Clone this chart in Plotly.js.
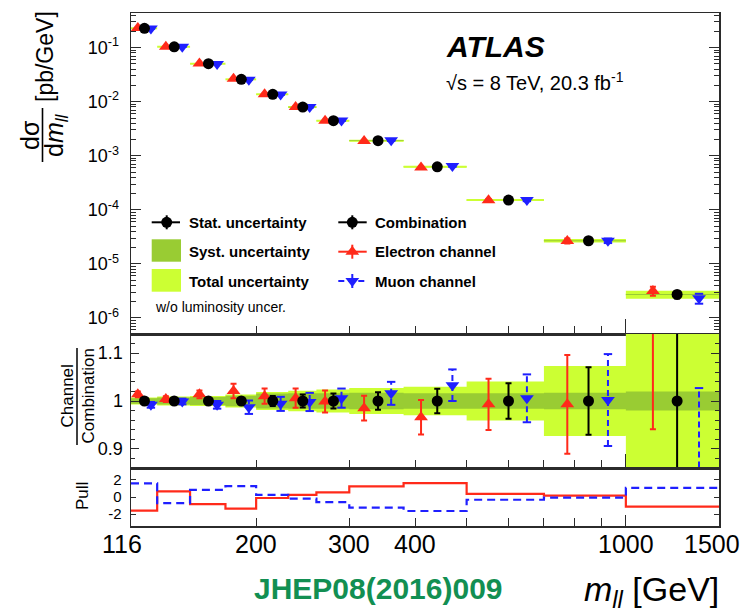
<!DOCTYPE html>
<html><head><meta charset="utf-8">
<script src="https://cdn.plot.ly/plotly-3.0.1.min.js"></script>
<style>html,body{margin:0;padding:0;background:#fff;}#chart{width:745px;height:613px;}</style>
</head><body><div id="chart"></div>
<script>
// ---------------- data ----------------
const binEdges = [116,130,150,175,200,230,260,300,380,500,700,1000,1500];
// combined differential cross section dσ/dm [pb/GeV]
const combXsec = [0.229, 0.104, 0.0506, 0.026, 0.0137, 0.00798, 0.00446, 0.0019, 6.25e-4, 1.51e-4, 2.67e-5, 2.71e-6];
// relative uncertainties of the combination
const combStat = [0.003, 0.0035, 0.0045, 0.006, 0.0105, 0.0136, 0.0157, 0.0185, 0.0255, 0.037, 0.0706, 0.16];
const combSyst = [0.006, 0.0075, 0.0085, 0.011, 0.0155, 0.016, 0.016, 0.017, 0.016, 0.016, 0.017, 0.020];
const combTot  = [0.0075, 0.0095, 0.0105, 0.0135, 0.019, 0.0215, 0.024, 0.027, 0.030, 0.0405, 0.073, 0.17];
// channel / combination ratios and their uncertainties
const elecRatio = [1.014, 1.004, 1.014, 1.021, 1.010, 1.006, 0.999, 0.985, 0.966, 0.993, 0.993, 1.16];
const elecErr   = [0.006, 0.006, 0.008, 0.015, 0.016, 0.020, 0.023, 0.026, 0.036, 0.0535, 0.103, 0.219];
const muonRatio = [0.992, 0.999, 0.992, 0.987, 0.994, 0.998, 1.006, 1.016, 1.033, 1.0056, 1.002, 0.85];
const muonErr   = [0.006, 0.006, 0.008, 0.014, 0.0147, 0.019, 0.020, 0.024, 0.033, 0.050, 0.096, 0.177];
// pulls
const elecPull = [-1.6, 0.67, -0.84, -1.37, -0.12, 0.24, 0.55, 1.25, 1.63, 0.36, 0.16, -1.13];
const muonPull = [1.6, -0.72, 0.84, 1.27, 0.25, -0.2, -0.6, -1.25, -1.64, -0.32, -0.08, 1.08];
// tick labels
const xTickVals = [116, 200, 300, 400, 1000, 1500];
const xTickText = ['116', '200', '300', '400', '1000', '1500'];
const xMajorVals = [1000];
const xMinorVals = [200, 300, 400, 500, 600, 700, 800, 900];
const yTopVals = [1e-6, 1e-5, 1e-4, 1e-3, 1e-2, 1e-1];
const yTopText = ['10<sup>-6</sup>','10<sup>-5</sup>','10<sup>-4</sup>','10<sup>-3</sup>','10<sup>-2</sup>','10<sup>-1</sup>'];
const yRatioVals = [0.9, 1.0, 1.1];
const yRatioText = ['0.9', '1', '1.1'];
const yPullVals = [-2, 0, 2];
const yPullText = ['-2', '0', '2'];

// ---------------- styling ----------------
const W = 745, H = 613;
const px = v => v / W, py = v => 1 - v / H;
const FONT = 'Liberation Sans, Arial, Helvetica, sans-serif';
const LIME = '#ccff33', DARK = '#99cc33', RED = '#ff2a1a', BLUE = '#1f1fff', FRAME = '#2b2b2b';
const MS = 11, TS = 12;

const n = combXsec.length;
const lo = binEdges.slice(0, n), hi = binEdges.slice(1);
const centers = lo.map((l, i) => (l + hi[i]) / 2);
const widths = lo.map((l, i) => hi[i] - l);
const xE = centers.map((c, i) => c - widths[i] / 4);
const xM = centers.map((c, i) => c + widths[i] / 4);
const ones = combXsec.map(() => 1);

function rects(scale, half) {
  const X = [], Y = [];
  for (let i = 0; i < n; i++) {
    const a = scale[i] * (1 - half[i]), b = scale[i] * (1 + half[i]);
    X.push(lo[i], hi[i], hi[i], lo[i], lo[i], null);
    Y.push(a, a, b, b, a, null);
  }
  return {X, Y};
}
function hsegs(vals) {
  const X = [], Y = [];
  for (let i = 0; i < n; i++) { X.push(lo[i], hi[i], null); Y.push(vals[i], vals[i], null); }
  return {X, Y};
}
function vsegs(xs, vals, errs) {
  const X = [], Y = [];
  for (let i = 0; i < n; i++) { X.push(xs[i], xs[i], null); Y.push(vals[i] - errs[i], vals[i] + errs[i], null); }
  return {X, Y};
}
function capsPts(xs, vals, errs) {
  const X = [], Y = [];
  for (let i = 0; i < n; i++) { X.push(xs[i], xs[i]); Y.push(vals[i] - errs[i], vals[i] + errs[i]); }
  return {X, Y};
}

const traces = [];
// ---------- top panel ----------
const elecX = combXsec.map((c, i) => c * elecRatio[i]);
const elecXErr = combXsec.map((c, i) => c * elecErr[i]);
const muonX = combXsec.map((c, i) => c * muonRatio[i]);
const muonXErr = combXsec.map((c, i) => c * muonErr[i]);
const combXErr = combXsec.map((c, i) => c * combStat[i]);

let s = hsegs(combXsec);
traces.push({x: s.X, y: s.Y, xaxis: 'x', yaxis: 'y', mode: 'lines', line: {color: LIME, width: 2}, hoverinfo: 'skip'});
let r = rects(combXsec, combTot);
traces.push({x: r.X, y: r.Y, xaxis: 'x', yaxis: 'y', mode: 'lines', fill: 'toself', fillcolor: LIME, line: {width: 0}, hoverinfo: 'skip'});
r = rects(combXsec, combSyst);
traces.push({x: r.X, y: r.Y, xaxis: 'x', yaxis: 'y', mode: 'lines', fill: 'toself', fillcolor: DARK, line: {width: 0}, hoverinfo: 'skip'});
traces.push({x: xE, y: elecX, xaxis: 'x', yaxis: 'y', mode: 'markers',
  marker: {symbol: 'triangle-up', size: TS, color: RED},
  error_y: {type: 'data', array: elecXErr, visible: true, color: RED, thickness: 2, width: 3}});
let v = vsegs(xM, muonX, muonXErr);
traces.push({x: v.X, y: v.Y, xaxis: 'x', yaxis: 'y', mode: 'lines', line: {color: BLUE, width: 2, dash: '6px,4px'}, hoverinfo: 'skip'});
let c = capsPts(xM, muonX, muonXErr);
traces.push({x: c.X, y: c.Y, xaxis: 'x', yaxis: 'y', mode: 'markers', marker: {symbol: 'line-ew', size: 6, color: BLUE, line: {color: BLUE, width: 2}}, hoverinfo: 'skip'});
traces.push({x: xM, y: muonX, xaxis: 'x', yaxis: 'y', mode: 'markers', marker: {symbol: 'triangle-down', size: TS, color: BLUE}});
traces.push({x: centers, y: combXsec, xaxis: 'x', yaxis: 'y', mode: 'markers',
  marker: {symbol: 'circle', size: MS, color: '#000'},
  error_y: {type: 'data', array: combXErr, visible: true, color: '#000', thickness: 2, width: 3}});

// ---------- ratio panel ----------
r = rects(ones, combTot);
traces.push({x: r.X, y: r.Y, xaxis: 'x2', yaxis: 'y2', mode: 'lines', fill: 'toself', fillcolor: LIME, line: {width: 0}, hoverinfo: 'skip'});
r = rects(ones, combSyst);
traces.push({x: r.X, y: r.Y, xaxis: 'x2', yaxis: 'y2', mode: 'lines', fill: 'toself', fillcolor: DARK, line: {width: 0}, hoverinfo: 'skip'});
traces.push({x: xE, y: elecRatio, xaxis: 'x2', yaxis: 'y2', mode: 'markers',
  marker: {symbol: 'triangle-up', size: TS, color: RED},
  error_y: {type: 'data', array: elecErr, visible: true, color: RED, thickness: 2, width: 3}});
v = vsegs(xM, muonRatio, muonErr);
traces.push({x: v.X, y: v.Y, xaxis: 'x2', yaxis: 'y2', mode: 'lines', line: {color: BLUE, width: 2, dash: '6px,4px'}, hoverinfo: 'skip'});
c = capsPts(xM, muonRatio, muonErr);
traces.push({x: c.X, y: c.Y, xaxis: 'x2', yaxis: 'y2', mode: 'markers', marker: {symbol: 'line-ew', size: 6, color: BLUE, line: {color: BLUE, width: 2}}, hoverinfo: 'skip'});
traces.push({x: xM, y: muonRatio, xaxis: 'x2', yaxis: 'y2', mode: 'markers', marker: {symbol: 'triangle-down', size: TS, color: BLUE}});
traces.push({x: centers, y: ones, xaxis: 'x2', yaxis: 'y2', mode: 'markers',
  marker: {symbol: 'circle', size: MS, color: '#000'},
  error_y: {type: 'data', array: combStat, visible: true, color: '#000', thickness: 2, width: 3}});

// ---------- pull panel ----------
traces.push({x: binEdges, y: elecPull.concat([elecPull[n - 1]]), xaxis: 'x3', yaxis: 'y3', mode: 'lines',
  line: {shape: 'hv', color: RED, width: 2.2}});
traces.push({x: binEdges, y: muonPull.concat([muonPull[n - 1]]), xaxis: 'x3', yaxis: 'y3', mode: 'lines',
  line: {shape: 'hv', color: BLUE, width: 2.2, dash: '8px,5px'}});

// ---------- legend symbols (pixel overlay) ----------
const LG = {lx0: 151.7, lx1: 180, lxm: 166.7, rx0: 338.3, rx1: 366.7, rxm: 352.3, row: [222.3, 251.7, 281, 306.7], bar: 7};
function legendLine(x0, x1, xm, y, color, dash) {
  traces.push({x: [x0, x1, null, xm, xm], y: [y, y, null, y - LG.bar, y + LG.bar], xaxis: 'x4', yaxis: 'y4', mode: 'lines',
    line: {color: color, width: 2, dash: dash || 'solid'}, hoverinfo: 'skip'});
}
legendLine(LG.lx0, LG.lx1, LG.lxm, LG.row[0], '#000');
legendLine(LG.rx0, LG.rx1, LG.rxm, LG.row[0], '#000');
legendLine(LG.rx0, LG.rx1, LG.rxm, LG.row[1], RED);
legendLine(LG.rx0, LG.rx1, LG.rxm, LG.row[2], BLUE, '6px,4px');
traces.push({x: [LG.lxm, LG.rxm], y: [LG.row[0], LG.row[0]], xaxis: 'x4', yaxis: 'y4', mode: 'markers', marker: {symbol: 'circle', size: MS, color: '#000'}, hoverinfo: 'skip'});
traces.push({x: [LG.rxm], y: [LG.row[1]], xaxis: 'x4', yaxis: 'y4', mode: 'markers', marker: {symbol: 'triangle-up', size: TS, color: RED}, hoverinfo: 'skip'});
traces.push({x: [LG.rxm], y: [LG.row[2]], xaxis: 'x4', yaxis: 'y4', mode: 'markers', marker: {symbol: 'triangle-down', size: TS, color: BLUE}, hoverinfo: 'skip'});

// ---------- axes ----------
function xAx(anchor, majLen) {
  return {type: 'log', range: [Math.log10(116), Math.log10(1500)], domain: [px(131), px(719)], anchor: anchor,
    showgrid: false, zeroline: false, showline: true, linecolor: FRAME, linewidth: 1.5, mirror: true,
    ticks: 'inside', ticklen: majLen, tickwidth: 1, tickcolor: FRAME, tickmode: 'array', tickvals: xMajorVals,
    showticklabels: false, fixedrange: true,
    minor: {tickmode: 'array', tickvals: xMinorVals, ticks: 'inside', ticklen: 8, tickcolor: FRAME, tickwidth: 1}};
}
const yBase = {showgrid: false, zeroline: false, showline: true, linecolor: FRAME, linewidth: 1.5, mirror: 'ticks',
  ticks: 'inside', tickwidth: 1, tickcolor: FRAME, tickmode: 'array', fixedrange: true};

const yMinor = [];
for (let e = -7; e <= -1; e++) for (let m = 2; m <= 9; m++) yMinor.push(m * Math.pow(10, e));
const y2Minor = [];
for (let k = 0; k <= 14; k++) { const t = +(0.86 + 0.02 * k).toFixed(2); if (Math.abs(t - 0.9) > 1e-6 && Math.abs(t - 1) > 1e-6 && Math.abs(t - 1.1) > 1e-6) y2Minor.push(t); }

const annotations = [];
function ann(text, x, y, o) {
  annotations.push(Object.assign({text: text, x: px(x), y: py(y), xref: 'paper', yref: 'paper', showarrow: false,
    xanchor: 'center', yanchor: 'middle', font: {family: FONT, size: 14, color: '#000'}}, o || {}));
}
ann('<b><i>ATLAS</i></b>', 444, 46.7, {xanchor: 'left', font: {family: FONT, size: 30, color: '#000'}});
ann('√s = 8 TeV, 20.3 fb<sup>-1</sup>', 444, 81.7, {xanchor: 'left', font: {family: FONT, size: 20, color: '#000'}});
// legend texts
const lgText = [['Stat. uncertainty', 'Combination'], ['Syst. uncertainty', 'Electron channel'], ['Total uncertainty', 'Muon channel']];
for (let i = 0; i < 3; i++) {
  ann('<b>' + lgText[i][0] + '</b>', 186.7, LG.row[i], {xanchor: 'left', font: {family: FONT, size: 15, color: '#000'}});
  ann('<b>' + lgText[i][1] + '</b>', 372.7, LG.row[i], {xanchor: 'left', font: {family: FONT, size: 15, color: '#000'}});
}
ann('w/o luminosity uncer.', 152.7, LG.row[3], {xanchor: 'left', font: {family: FONT, size: 14, color: '#000'}});
// axis titles
ann('[pb/GeV]', 45, 57, {textangle: -90, font: {family: FONT, size: 23, color: '#000'}});
ann('dσ', 30, 135, {textangle: -90, font: {family: FONT, size: 25, color: '#000'}});
ann('d<i>m</i><sub><i>ll</i></sub>', 56, 135, {textangle: -90, font: {family: FONT, size: 25, color: '#000'}});
ann('Channel', 67, 396.5, {textangle: -90, font: {family: FONT, size: 17, color: '#000'}});
ann('Combination', 88, 396.5, {textangle: -90, font: {family: FONT, size: 17, color: '#000'}});
ann('Pull', 82, 496, {textangle: -90, font: {family: FONT, size: 17, color: '#000'}});
// x tick labels under the pull panel
const xShift = [-9, 0, 0, 0, 0, -7];
for (let i = 0; i < xTickVals.length; i++) {
  annotations.push({text: xTickText[i], x: Math.log10(xTickVals[i]), xref: 'x3', y: py(544), yref: 'paper', xshift: xShift[i],
    showarrow: false, xanchor: 'center', yanchor: 'middle', font: {family: FONT, size: 25, color: '#000'}});
}
ann('<i>m</i><sub><i>ll</i></sub> [GeV]', 721, 591, {xanchor: 'right', font: {family: FONT, size: 34, color: '#000'}});
ann('<b>JHEP08(2016)009</b>', 378.5, 588, {font: {family: FONT, size: 30, color: '#128f52'}});

const shapes = [
  {type: 'line', xref: 'paper', yref: 'paper', x0: px(42.5), x1: px(42.5), y0: py(108), y1: py(162), line: {color: '#000', width: 1.6}},
  {type: 'line', xref: 'paper', yref: 'paper', x0: px(77), x1: px(77), y0: py(348), y1: py(445), line: {color: '#000', width: 1.5}},
  {type: 'rect', xref: 'paper', yref: 'paper', x0: px(151.7), x1: px(181), y0: py(261.7), y1: py(239.3), fillcolor: DARK, line: {width: 0}},
  {type: 'rect', xref: 'paper', yref: 'paper', x0: px(151.7), x1: px(181), y0: py(291.7), y1: py(269), fillcolor: LIME, line: {width: 0}}
];

const layout = {
  width: W, height: H, autosize: false, margin: {l: 0, r: 0, t: 0, b: 0},
  paper_bgcolor: '#ffffff', plot_bgcolor: 'rgba(0,0,0,0)', showlegend: false,
  font: {family: FONT, color: '#000'},
  xaxis: xAx('y', 15),
  xaxis2: xAx('y2', 14),
  xaxis3: xAx('y3', 11),
  xaxis4: {domain: [0, 1], range: [0, W], visible: false, anchor: 'y4', fixedrange: true},
  yaxis: Object.assign({}, yBase, {anchor: 'x', type: 'log', domain: [py(334), py(13)], range: [-6.30, -0.357],
    tickvals: yTopVals, ticktext: yTopText, ticklen: 10, ticklabelstandoff: 7,
    minor: {tickmode: 'array', tickvals: yMinor, ticks: 'inside', ticklen: 5, tickcolor: FRAME, tickwidth: 1},
    tickfont: {family: FONT, size: 18, color: '#000'}}),
  yaxis2: Object.assign({}, yBase, {anchor: 'x2', domain: [py(468), py(334)], range: [0.86, 1.14],
    tickvals: yRatioVals, ticktext: yRatioText, ticklen: 8, ticklabelstandoff: 3,
    minor: {tickmode: 'array', tickvals: y2Minor, ticks: 'inside', ticklen: 4, tickcolor: FRAME, tickwidth: 1},
    tickfont: {family: FONT, size: 18, color: '#000'}}),
  yaxis3: Object.assign({}, yBase, {anchor: 'x3', domain: [py(526), py(468)], range: [-3.4, 3.4],
    tickvals: yPullVals, ticktext: yPullText, ticklen: 5, ticklabelstandoff: 5,
    tickfont: {family: FONT, size: 15, color: '#000'}}),
  yaxis4: {domain: [0, 1], range: [H, 0], visible: false, anchor: 'x4', fixedrange: true},
  annotations: annotations, shapes: shapes
};

Plotly.newPlot('chart', traces, layout, {staticPlot: true, displayModeBar: false});
</script></body></html>
